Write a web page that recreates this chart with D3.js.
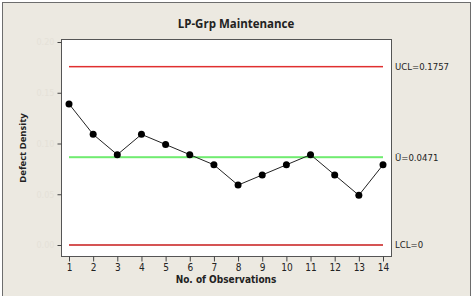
<!DOCTYPE html>
<html lang="en">
<head>
<meta charset="UTF-8">
<title>LP-Grp Maintenance</title>
<script src="https://d3js.org/d3.v7.min.js"></script>
<style>
  body { margin: 0; background: #fff; }
  text { font-family: "DejaVu Sans Condensed", "DejaVu Sans", sans-serif; }
</style>
</head>
<body>
<div id="chart"></div>
<script>
// observation numbers and defect density per observation
const observations = [1, 2, 3, 4, 5, 6, 7, 8, 9, 10, 11, 12, 13, 14];
const density = [0.139, 0.109, 0.089, 0.109, 0.099, 0.089, 0.079, 0.059, 0.069, 0.079, 0.089, 0.069, 0.049, 0.079];

// control limits (value = where the line sits on the axis, label = printed text)
const limitNames = ["UCL", "center", "LCL"];
const limitValues = [0.1757, 0.0865, 0];
const limitLabels = ["UCL=0.1757", "Ū=0.0471", "LCL=0"];
const limitColors = ["#e03030", "#70ec70", "#c81c1c"];

const yTicks = [0, 0.05, 0.10, 0.15, 0.20];

const width = 475, height = 296;
const plot = { left: 61, top: 39, right: 391, bottom: 256 };

const svg = d3.select("#chart").append("svg")
  .attr("width", width)
  .attr("height", height);

// outer panel
svg.append("rect")
  .attr("x", 2.5).attr("y", 2.5)
  .attr("width", 468).attr("height", 300)
  .attr("fill", "#ece9e1")
  .attr("stroke", "#6d6d6d");

svg.append("text")
  .attr("x", 236).attr("y", 28)
  .attr("text-anchor", "middle")
  .style("font-family", "'Open Sans', sans-serif")
  .style("font-weight", "bold")
  .style("font-size", "11.5px")
  .attr("fill", "#222")
  .text("LP-Grp Maintenance");

// plot area
svg.append("rect")
  .attr("x", plot.left + 0.5).attr("y", plot.top + 0.5)
  .attr("width", plot.right - plot.left).attr("height", plot.bottom - plot.top)
  .attr("fill", "#fff")
  .attr("stroke", "#555");

const x = d3.scaleLinear().domain([1, 14]).range([69, 383]);
const y = d3.scaleLinear().domain([0, 0.20]).range([245, 42]);

// x axis
const xAxis = svg.append("g")
  .attr("transform", `translate(0,${plot.bottom + 0.5})`)
  .call(d3.axisBottom(x).tickValues(observations).tickSize(5).tickFormat(d3.format("d")));
xAxis.select(".domain").remove();
xAxis.selectAll("line").attr("stroke", "#444");
xAxis.selectAll("text")
  .attr("y", 7)
  .attr("fill", "#222")
  .style("font-size", "10px")
  .style("font-family", "'DejaVu Sans Condensed', sans-serif");

// y axis (labels are very faint in the reference)
const yAxis = svg.append("g")
  .attr("transform", `translate(${plot.left + 0.5},0)`)
  .call(d3.axisLeft(y).tickValues(yTicks).tickSize(4).tickFormat(d3.format(".2f")));
yAxis.select(".domain").remove();
yAxis.selectAll("line").attr("stroke", "#444");
yAxis.selectAll("text")
  .attr("fill", "#e5e1d8")
  .style("font-size", "9px")
  .style("font-family", "'DejaVu Sans Condensed', sans-serif");

// axis titles
svg.append("text")
  .attr("x", 226).attr("y", 283)
  .attr("text-anchor", "middle")
  .style("font-weight", "bold")
  .style("font-size", "10px")
  .attr("fill", "#222")
  .text("No. of Observations");

svg.append("text")
  .attr("transform", "translate(26,148) rotate(-90)")
  .attr("text-anchor", "middle")
  .style("font-family", "'Open Sans', sans-serif")
  .style("font-weight", "bold")
  .style("font-size", "9.5px")
  .attr("fill", "#222")
  .text("Defect Density");

// control limit lines, drawn as thin filled bands
limitNames.forEach((name, i) => {
  const thick = name === "center" ? 2 : 1.5;
  svg.append("rect")
    .attr("x", x(1)).attr("width", x(14) - x(1))
    .attr("y", y(limitValues[i]) - thick / 2)
    .attr("height", thick)
    .attr("fill", limitColors[i]);
  svg.append("text")
    .attr("x", 395)
    .attr("y", y(limitValues[i]))
    .attr("dy", "0.35em")
    .style("font-size", "9.5px")
    .attr("fill", "#222")
    .text(limitLabels[i]);
});

// data line and points
const line = d3.line()
  .x((d, i) => x(observations[i]))
  .y(d => y(d));

svg.append("path")
  .datum(density)
  .attr("d", line)
  .attr("fill", "none")
  .attr("stroke", "#222")
  .attr("stroke-width", 1);

svg.selectAll("circle.pt")
  .data(density)
  .enter().append("circle")
  .attr("class", "pt")
  .attr("cx", (d, i) => x(observations[i]))
  .attr("cy", d => y(d))
  .attr("r", 3.5)
  .attr("fill", "#000");
</script>
</body>
</html>
